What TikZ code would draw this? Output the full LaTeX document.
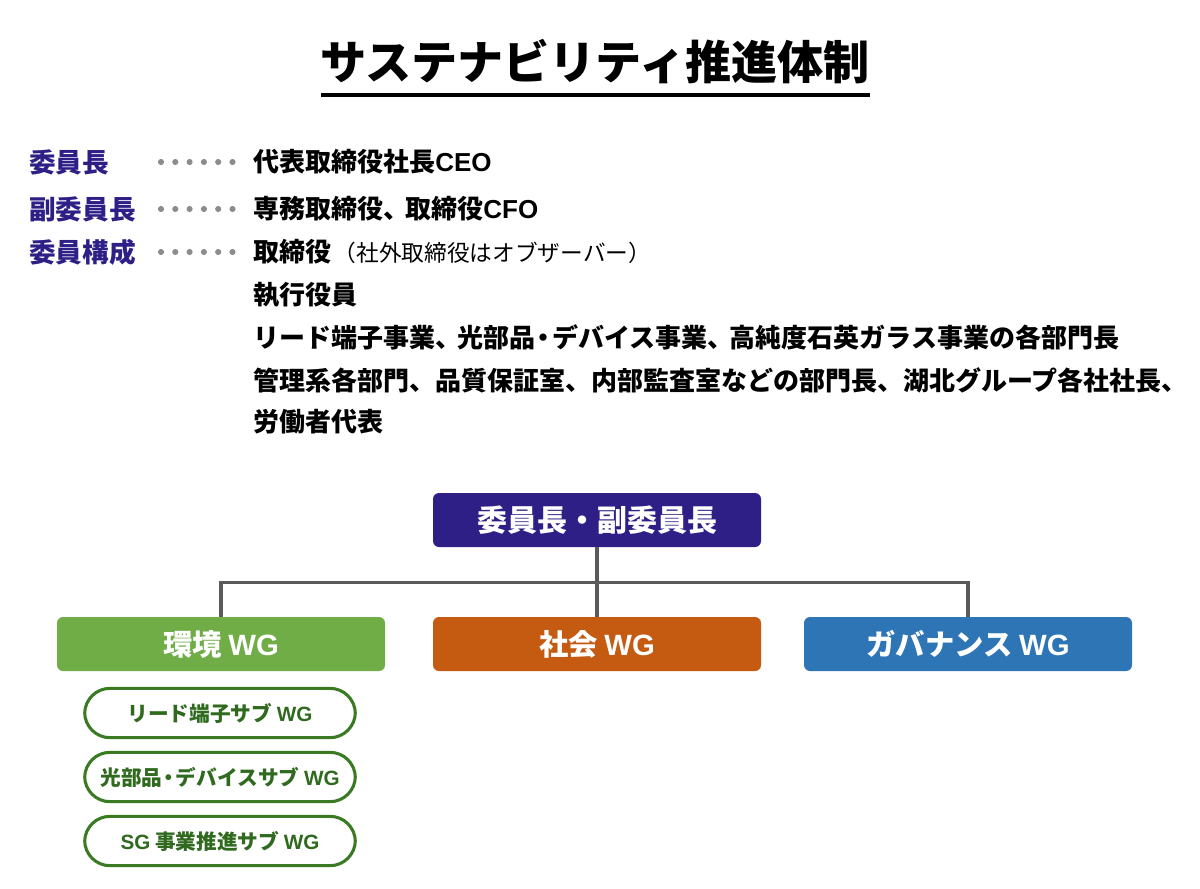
\documentclass[tikz,border=0pt]{standalone}
\usepackage{fontspec}
\setmainfont{Noto Sans CJK JP}
\newfontfamily\lat{Liberation Sans}
\usetikzlibrary{positioning}
\definecolor{purp}{HTML}{2E1F87}
\definecolor{envg}{HTML}{70AD47}
\definecolor{soco}{HTML}{C55A11}
\definecolor{govb}{HTML}{2E75B6}
\definecolor{subg}{HTML}{3A7A23}
\definecolor{subt}{HTML}{2F6A1E}
\definecolor{linegray}{HTML}{5A5A5A}
\definecolor{dotgray}{HTML}{8C8C8C}
\newcommand{\nd}{\kern-0.17em・\kern-0.17em}
\newcommand{\nc}{、\kern-0.15em}
\tikzset{
  role/.style={anchor=west, inner sep=0pt, text=purp, font=\fontsize{20}{24}\selectfont\bfseries},
  member/.style={anchor=west, inner sep=0pt, text=black, font=\fontsize{19.5}{23}\selectfont\bfseries},
  topbox/.style={fill=purp, rounded corners=4.5pt, minimum width=246pt, minimum height=40.5pt, inner sep=0pt, text=white, font=\fontsize{22.5}{26}\selectfont\bfseries},
  wgbox/.style={rounded corners=4.5pt, minimum width=246pt, minimum height=40.5pt, inner sep=0pt, text=white, font=\fontsize{22}{26}\selectfont\bfseries},
  subbox/.style={draw=subg, line width=2.3pt, fill=white, rounded corners=19pt, minimum width=203pt, minimum height=37pt, inner sep=0pt, text=subt, font=\fontsize{15.5}{19}\selectfont\bfseries},
  conn/.style={draw=linegray, line width=2.6pt},
}
\begin{document}
\begin{tikzpicture}[x=0.75pt,y=-0.75pt]
\useasboundingbox (0,0) rectangle (1200,889);
% title
\node[inner sep=0pt, font=\fontsize{34.6}{40}\selectfont\bfseries] (title) at (595,62) {サステナビリティ推進体制};
\coordinate (ulL) at (321,95);
\coordinate (ulR) at (870,95);
\draw[line width=2.4pt] (ulL) -- (ulR);
% roles
\node[role] (r1) at (29,162) {委員長};
\node[role] (r2) at (29,209) {副委員長};
\node[role] (r3) at (29,252) {委員構成};
\foreach \yy in {162,209,252}{
  \foreach \i in {0,...,5}{
    \fill[dotgray] (161+\i*14.3,\yy) circle[radius=2.3pt];
  }
}
\node[member] (m1) at (253,162) {代表取締役社長{\lat CEO}};
\node[member] (m2) at (253,209) {専務取締役\nc 取締役{\lat CFO}};
\node[member] (m3) at (253,252) {取締役\kern2pt{\fontsize{17}{20}\selectfont\mdseries（社外取締役はオブザーバー）}};
\node[member] (m4) at (253,295) {執行役員};
\node[member] (m5) at (253,337) {リード端子事業\nc 光部品\nd デバイス事業\nc 高純度石英ガラス事業の各部門長};
\node[member] (m6) at (253,380) {管理系各部門、品質保証室、内部監査室などの部門長、湖北グループ各社社長、};
\node[member] (m7) at (253,422) {労働者代表};
% chart
\node[topbox] (top) at (597,520) {委員長・副委員長};
\node[wgbox, fill=envg] (env) at (221,644) {環境 {\lat WG}};
\node[wgbox, fill=soco] (soc) at (597,644) {社会 {\lat WG}};
\node[wgbox, fill=govb] (gov) at (968,644) {ガバナンス {\lat WG}};
\coordinate (jn) at (597,582);
\draw[conn] (top.south) -- (jn);
\draw[conn] (env.north) -- ++(0,-34) -| (gov.north);
\draw[conn] (jn) -- (soc.north);
\node[subbox] (s1) at (220,713) {リード端子サブ {\lat WG}};
\node[subbox] (s2) at (220,777) {光部品\nd デバイスサブ {\lat WG}};
\node[subbox] (s3) at (220,841) {{\lat SG} 事業推進サブ {\lat WG}};
\end{tikzpicture}
\end{document}
